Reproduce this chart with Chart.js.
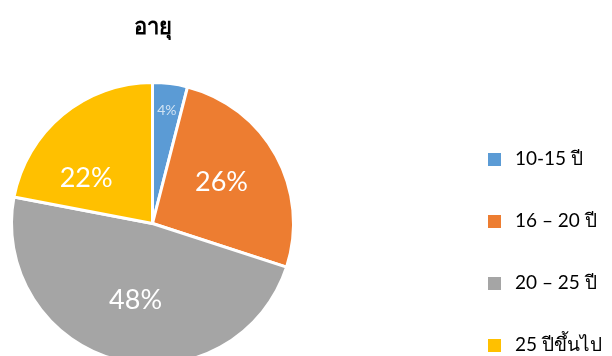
<!DOCTYPE html>
<html>
<head>
<meta charset="utf-8">
<script src="https://cdn.jsdelivr.net/npm/chart.js@4"></script>
<style>
  html, body { margin: 0; padding: 0; background: #fff; overflow: hidden; width: 612px; height: 356px; }
  #wrap { position: relative; width: 612px; height: 356px; overflow: hidden; }
  #ageChart { position: absolute; left: 0; top: 0; }
  .title { position: absolute; left: 0; width: 306px; top: 9px; text-align: center;
    font: bold 22px Lato, "Noto Sans", sans-serif; color: #000; }
  .legend { position: absolute; left: 488px; top: 0; font: 19px Lato, "Noto Sans", sans-serif; color: #000; }
  .legend div { position: absolute; white-space: nowrap; line-height: 20px; }
  .legend span { display: inline-block; width: 13px; height: 13px; margin-right: 14px; vertical-align: -1px; }
</style>
</head>
<body>
<div id="wrap">
  <canvas id="ageChart" width="612" height="372"></canvas>
  <div class="title" id="title"></div>
  <div class="legend" id="legend"></div>
</div>
<script>
const chartTitle = 'อายุ';
const ageGroups = ['10-15 ปี', '16 – 20 ปี', '20 – 25 ปี', '25 ปีขึ้นไป'];
const agePercent = [4, 26, 48, 22];
const sliceColors = ['#5B9BD5', '#ED7D31', '#A5A5A5', '#FFC000'];

// label placement inside each slice
const labelRadius = [0.81, 0.57, 0.56, 0.57];
const labelShiftDeg = [0, -2, -2, -16];
const labelSize = [14, 27, 27, 27];
const labelColor = ['rgba(255,255,255,0.72)', '#fff', '#fff', '#fff'];

document.getElementById('title').textContent = chartTitle;

const legendEl = document.getElementById('legend');
ageGroups.forEach((name, i) => {
  const row = document.createElement('div');
  row.style.top = (148 + i * 62) + 'px';
  row.innerHTML = '<span style="background:' + sliceColors[i] + '"></span>' + name;
  legendEl.appendChild(row);
});

const sliceLabels = {
  id: 'sliceLabels',
  afterDatasetsDraw(chart) {
    const ctx = chart.ctx;
    const arcs = chart.getDatasetMeta(0).data;
    ctx.save();
    ctx.textAlign = 'center';
    ctx.textBaseline = 'middle';
    arcs.forEach((arc, i) => {
      const p = arc.getProps(['x', 'y', 'startAngle', 'endAngle', 'outerRadius'], true);
      const mid = (p.startAngle + p.endAngle) / 2 + labelShiftDeg[i] * Math.PI / 180;
      const r = p.outerRadius * labelRadius[i];
      ctx.font = labelSize[i] + 'px Lato, "Noto Sans", sans-serif';
      ctx.fillStyle = labelColor[i];
      ctx.fillText(agePercent[i] + '%', p.x + Math.cos(mid) * r, p.y + Math.sin(mid) * r);
    });
    ctx.restore();
  }
};

new Chart(document.getElementById('ageChart').getContext('2d'), {
  type: 'pie',
  data: {
    labels: ageGroups,
    datasets: [{
      data: agePercent,
      backgroundColor: sliceColors,
      borderColor: '#fff',
      borderWidth: 3
    }]
  },
  options: {
    responsive: false,
    animation: false,
    devicePixelRatio: 1,
    layout: { padding: { left: 10, top: 81, right: 317, bottom: 6 } },
    plugins: {
      legend: { display: false },
      title: { display: false },
      tooltip: { enabled: false }
    }
  },
  plugins: [sliceLabels]
});
</script>
</body>
</html>
